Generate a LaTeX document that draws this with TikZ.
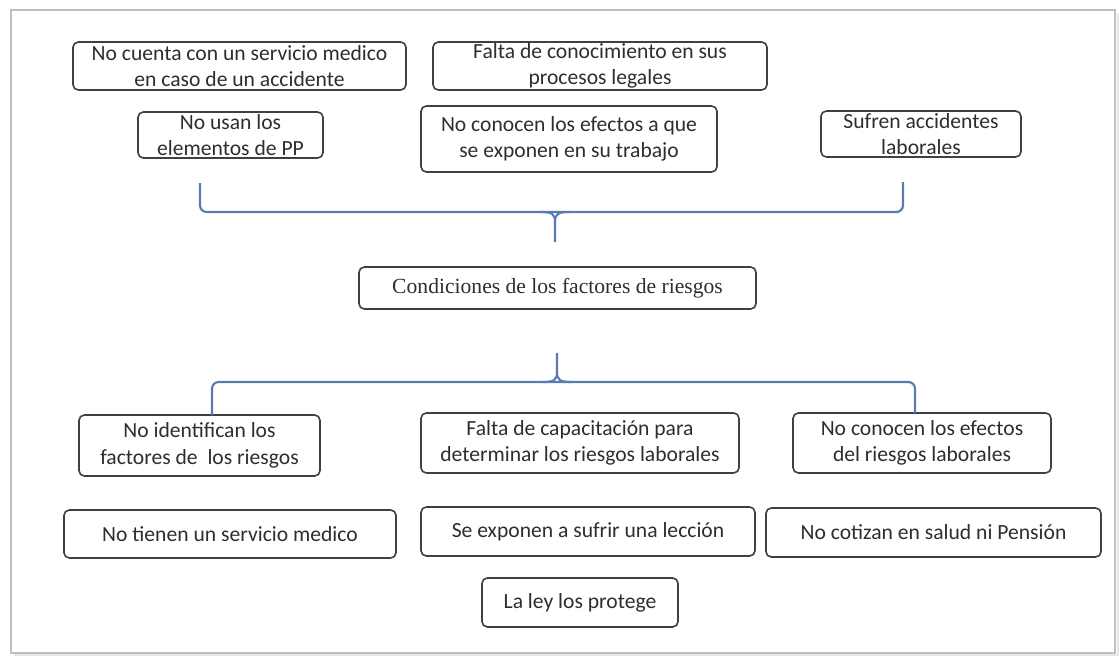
\documentclass[tikz,border=0pt]{standalone}
\usepackage{fontspec}
\setmainfont{Carlito}
\newfontfamily\serifcond{Liberation Serif}
\definecolor{bracecol}{RGB}{92,122,178}
\begin{document}
\begin{tikzpicture}[x=0.75pt,y=-0.75pt,
  sz/.style 2 args={minimum width=#1*0.75pt, minimum height=#2*0.75pt},
  box/.style={draw=black!75, line width=1.2pt, rounded corners=4pt, fill=white,
    align=center, inner sep=0pt, text=black!82,
    font=\fontsize{16.2}{20}\selectfont},
  brace/.style={draw=bracecol, line width=1.6pt, rounded corners=5pt},
  frame/.style={draw=black!25, line width=0.8pt}]
\useasboundingbox (0,0) rectangle (1119,656);
\fill[white] (0,0) rectangle (1119,656);
\draw[draw=black!10, line width=2pt] (14,655) -- (1118,655) -- (1118,13);
\draw[frame] (11,10) rectangle (1115,653);

\node[box, sz={333}{48}] (b1) at (239.5,66) {No cuenta con un servicio medico\\en caso de un accidente};
\node[box, sz={334}{48}] (b2) at (600,66) {Falta de conocimiento en sus\\procesos legales};
\node[box, sz={185}{46}] (b3) at (230.5,135) {No usan los\\elementos de PP};
\node[box, sz={296}{66}] (b4) at (569,139) {No conocen los efectos a que\\se exponen en su trabajo};
\node[box, sz={200}{46}] (b5) at (921,134) {Sufren accidentes\\laborales};
\node[box, sz={397}{42}, font=\serifcond\fontsize{16.2}{19}\selectfont] (c) at (557.5,288) {Condiciones de los factores de riesgos};
\node[box, sz={241}{61}] (b6) at (199.5,445.5) {No identifican los\\factores de\ \ los riesgos};
\node[box, sz={318}{60}] (b7) at (580,443) {Falta de capacitación para\\determinar los riesgos laborales};
\node[box, sz={258}{60}] (b8) at (922,443) {No conocen los efectos\\del riesgos laborales};
\node[box, sz={332}{48}] (b9) at (230,534) {No tienen un servicio medico};
\node[box, sz={334}{49}] (b10) at (588,531.5) {Se exponen a sufrir una lección};
\node[box, sz={335}{49}] (b11) at (933.5,532.5) {No cotizan en salud ni Pensión};
\node[box, sz={196}{49}] (b12) at (580,602.5) {La ley los protege};

% top brace
\coordinate (ta) at (200,183);
\coordinate (tb) at (903,182);
\coordinate (tt) at (555,242);
\draw[brace] (ta) -- (200,212) -- (903,212) -- (tb);
\draw[brace, rounded corners=0pt] (541,212) .. controls (552,212) and (555,214) .. (555,222) -- (tt);
\draw[brace, rounded corners=0pt] (569,212) .. controls (558,212) and (555,214) .. (555,222);

% bottom brace
\coordinate (ba) at (212,415);
\coordinate (bb) at (915,413);
\coordinate (bt) at (557,353);
\draw[brace] (ba) -- (212,382) -- (915,382) -- (bb);
\draw[brace, rounded corners=0pt] (bt) -- (557,372) .. controls (557,380) and (554,382) .. (543,382);
\draw[brace, rounded corners=0pt] (557,372) .. controls (557,380) and (560,382) .. (571,382);
\end{tikzpicture}
\end{document}
